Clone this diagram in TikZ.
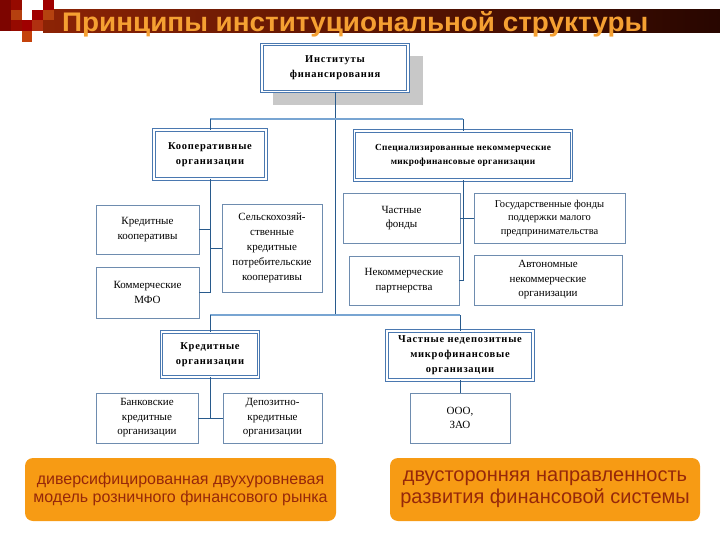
\documentclass[tikz,border=0pt]{standalone}
\usepackage{graphicx}
\usepackage{fontspec}
\setmainfont{Liberation Serif}
\newfontfamily\sansf{Liberation Sans}
\definecolor{tcol}{RGB}{245,160,50}
\definecolor{oboxc}{RGB}{247,155,20}
\definecolor{otext}{RGB}{150,40,10}
\definecolor{bordD}{RGB}{74,120,176}
\definecolor{bordS}{RGB}{110,140,175}
\definecolor{connC}{RGB}{40,90,140}
\definecolor{busC}{RGB}{120,165,210}
\definecolor{shad}{RGB}{200,200,200}
\definecolor{barL}{RGB}{140,35,5}
\definecolor{barR}{RGB}{40,6,0}
\definecolor{sqA}{RGB}{125,5,0}
\definecolor{sqB}{RGB}{150,10,0}
\definecolor{sqC}{RGB}{181,64,15}
\definecolor{sqD}{RGB}{160,0,0}
\definecolor{sqE}{RGB}{196,66,12}
\definecolor{sqF}{RGB}{176,48,16}
\definecolor{sqG}{RGB}{181,66,15}
\begin{document}
\begin{tikzpicture}[x=1pt,y=-1pt,
  boxd/.style={draw=bordD, double=white, double distance=1.6pt, line width=0.9pt, fill=white, align=center, inner sep=1pt, font=\bfseries\fontsize{10.5}{15}\selectfont\addfontfeature{LetterSpace=7}},
  boxs/.style={draw=bordS, line width=0.9pt, fill=white, align=center, inner sep=1pt, font=\fontsize{11}{14.5}\selectfont},
  conn/.style={draw=connC, line width=0.9pt},
  bus/.style={draw=busC, line width=1.5pt},
  obox/.style={fill=oboxc, rounded corners=8pt, align=center, text=otext, inner sep=2pt}]
\useasboundingbox (0,0) rectangle (720,540);
% title bar and decoration
\shade[left color=barL, right color=barR] (43,10) rectangle (720,33);
\fill[sqA] (0,0) rectangle (11,31);
\fill[sqB] (11,0) rectangle (22,31);
\fill[sqC] (11,10) rectangle (22,20);
\fill[sqD] (22,20) rectangle (32,31);
\fill[sqE] (22,31) rectangle (32,42);
\fill[sqD] (32,10) rectangle (43,20);
\fill[sqF] (32,20) rectangle (43,31);
\fill[sqD] (43,0) rectangle (54,10);
\fill[sqG] (43,10) rectangle (54,20);
\node[anchor=base west, inner sep=0, text=tcol] (title) at (62,32) {\resizebox{586pt}{20pt}{\sansf\bfseries Принципы институциональной структуры}};
% shadow of top box
\fill[shad] (273,56) rectangle (423,105);
% header boxes
\node[boxd, minimum width=146pt, minimum height=47pt] (top) at (335,68) {Институты\\финансирования};
\node[boxd, minimum width=112pt, minimum height=49pt] (coop) at (210,154.5) {Кооперативные\\организации};
\node[boxd, minimum width=217pt, minimum height=49pt, font=\bfseries\fontsize{9.3}{14}\selectfont\addfontfeature{LetterSpace=4}] (spec) at (463,155.5) {Специализированные некоммерческие\\микрофинансовые организации};
\node[boxd, minimum width=97pt, minimum height=45pt] (ko) at (210,354.5) {Кредитные\\организации};
\node[boxd, minimum width=146pt, minimum height=49pt] (cn) at (460,355.5) {Частные недепозитные\\микрофинансовые\\организации};
% plain boxes
\node[boxs, minimum width=103pt, minimum height=49pt] (kk) at (147.5,229.5) {Кредитные\\кооперативы};
\node[boxs, minimum width=103pt, minimum height=51pt] (mfo) at (147.5,292.5) {Коммерческие\\МФО};
\node[boxs, minimum width=100pt, minimum height=88pt, font=\fontsize{11}{15}\selectfont] (sx) at (272,248) {Сельскохозяй-\\ственные\\кредитные\\потребительские\\кооперативы};
\node[boxs, minimum width=117pt, minimum height=50pt] (cf) at (401.5,218) {Частные\\фонды};
\node[boxs, minimum width=151pt, minimum height=50pt, font=\fontsize{10.5}{13.5}\selectfont] (gf) at (549.5,218) {Государственные фонды\\поддержки малого\\предпринимательства};
\node[boxs, minimum width=110pt, minimum height=49pt] (np) at (404,280.5) {Некоммерческие\\партнерства};
\node[boxs, minimum width=148pt, minimum height=50pt] (ano) at (548,280) {Автономные\\некоммерческие\\организации};
\node[boxs, minimum width=102pt, minimum height=50pt] (bank) at (147,418) {Банковские\\кредитные\\организации};
\node[boxs, minimum width=99pt, minimum height=50pt] (dk) at (272.5,418) {Депозитно-\\кредитные\\организации};
\node[boxs, minimum width=100pt, minimum height=50pt] (ooo) at (460,418) {ООО,\\ЗАО};
% orange boxes
\node[obox, minimum width=311pt, minimum height=63pt, font=\sansf\fontsize{16}{18}\selectfont] (ol) at (180.5,489.5) {диверсифицированная двухуровневая\\модель розничного финансового рынка};
\node[obox, minimum width=310pt, minimum height=63pt, font=\sansf\fontsize{20}{22}\selectfont] (or) at (545,489.5) {двусторонняя направленность\\развития финансовой системы};
% connectors
\coordinate (b1L) at (210,119);
\coordinate (b1R) at (463,119);
\coordinate (b2L) at (210,315);
\coordinate (b2R) at (460,315);
\draw[conn] (top.south) -- (top.south |- b2L);
\draw[bus] (b1L) -- (b1R);
\draw[conn] (b1L) -- (coop.north);
\draw[conn] (b1R) -- (spec.north);
\draw[conn] (coop.south) -- (coop.south |- mfo.east);
\draw[conn] (kk.east) -- (kk.east -| coop.south);
\draw[conn] (sx.west) -- (sx.west -| coop.south);
\draw[conn] (mfo.east) -- (mfo.east -| coop.south);
\draw[conn] (spec.south) -- (spec.south |- np.east);
\draw[conn] (cf.east) -- (gf.west);
\draw[conn] (np.east) -- (np.east -| spec.south);
\draw[bus] (b2L) -- (b2R);
\draw[conn] (b2L) -- (ko.north);
\draw[conn] (b2R) -- (cn.north);
\draw[conn] (ko.south) -- (ko.south |- bank.east);
\draw[conn] (bank.east) -- (dk.west);
\draw[conn] (cn.south) -- (ooo.north);
\end{tikzpicture}
\end{document}
